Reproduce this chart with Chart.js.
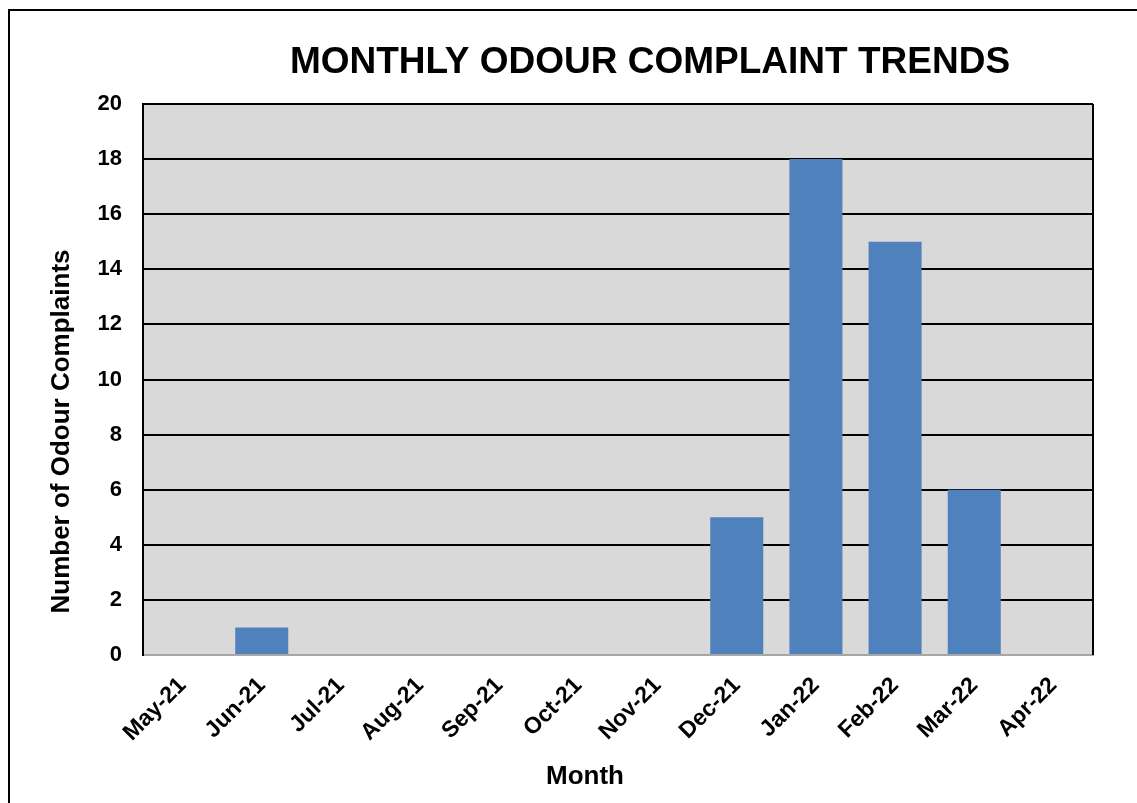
<!DOCTYPE html>
<html>
<head>
<meta charset="utf-8">
<style>
  html, body { margin: 0; padding: 0; background: #fff; }
  #wrap { width: 1137px; height: 803px; position: relative; }
</style>
<script src="https://cdn.jsdelivr.net/npm/chart.js@4/dist/chart.umd.min.js"></script>
</head>
<body>
<div id="wrap"><canvas id="c" width="1137" height="803"></canvas></div>
<script>
const categories = ["May-21","Jun-21","Jul-21","Aug-21","Sep-21","Oct-21","Nov-21","Dec-21","Jan-22","Feb-22","Mar-22","Apr-22"];
const complaints = [0, 1, 0, 0, 0, 0, 0, 5, 18, 15, 6, 0];
const chartTitle = "MONTHLY ODOUR COMPLAINT TRENDS";
const xTitle = "Month";
const yTitle = "Number of Odour Complaints";
const FONT = '"Liberation Sans", Arial, Helvetica, sans-serif';

const decor = {
  id: 'decor',
  beforeDraw(chart) {
    const ctx = chart.ctx, a = chart.chartArea;
    ctx.save();
    ctx.fillStyle = '#fff';
    ctx.fillRect(0, 0, chart.width, chart.height);
    ctx.strokeStyle = '#000';
    ctx.lineWidth = 2;
    ctx.strokeRect(9, 10, 1300, 1000);
    ctx.fillStyle = '#D9D9D9';
    ctx.fillRect(a.left, a.top, a.right - a.left, a.bottom - a.top);
    ctx.restore();
  },
  afterDraw(chart) {
    const ctx = chart.ctx, a = chart.chartArea;
    ctx.save();
    ctx.strokeStyle = '#000';
    ctx.lineWidth = 2;
    ctx.beginPath();
    ctx.moveTo(a.right, a.top);
    ctx.lineTo(a.right, a.bottom);
    ctx.stroke();
    ctx.fillStyle = '#000';
    ctx.textAlign = 'center';
    ctx.textBaseline = 'alphabetic';
    ctx.font = 'bold 37px ' + FONT;
    ctx.fillText(chartTitle, a.left + (a.right - a.left) / 2 + 32, 73);
    ctx.font = 'bold 26px ' + FONT;
    ctx.fillText(xTitle, a.left + (a.right - a.left) / 2 - 33, 784);
    ctx.translate(69, a.top + (a.bottom - a.top) / 2 + 52);
    ctx.rotate(-Math.PI / 2);
    ctx.fillText(yTitle, 0, 0);
    ctx.restore();
  }
};

new Chart(document.getElementById('c'), {
  type: 'bar',
  data: {
    labels: categories,
    datasets: [{
      data: complaints,
      backgroundColor: '#4F81BD',
      borderWidth: 0,
      barPercentage: 0.67,
      categoryPercentage: 1.0
    }]
  },
  options: {
    responsive: false,
    animation: false,
    devicePixelRatio: 1,
    layout: { padding: { top: 104, right: 44, bottom: 0, left: 0 } },
    plugins: { legend: { display: false }, tooltip: { enabled: false }, title: { display: false } },
    scales: {
      x: {
        afterFit(scale) { scale.height = 148; },
        grid: { display: false, drawTicks: false },
        border: { display: true, color: '#A6A6A6', width: 2 },
        ticks: {
          color: '#000',
          font: { family: FONT, size: 23, weight: 'bold' },
          maxRotation: 45, minRotation: 45,
          padding: 17,
          autoSkip: false
        }
      },
      y: {
        min: 0, max: 20,
        afterFit(scale) { scale.width = 143; },
        grid: {
          color: (c) => c.tick && c.tick.value === 0 ? '#A6A6A6' : '#000',
          lineWidth: 2,
          drawTicks: false
        },
        border: { display: true, color: '#000', width: 2 },
        ticks: {
          stepSize: 2,
          color: '#000',
          padding: 21,
          font: { family: FONT, size: 22, weight: 'bold' }
        }
      }
    }
  },
  plugins: [decor]
});
</script>
</body>
</html>
